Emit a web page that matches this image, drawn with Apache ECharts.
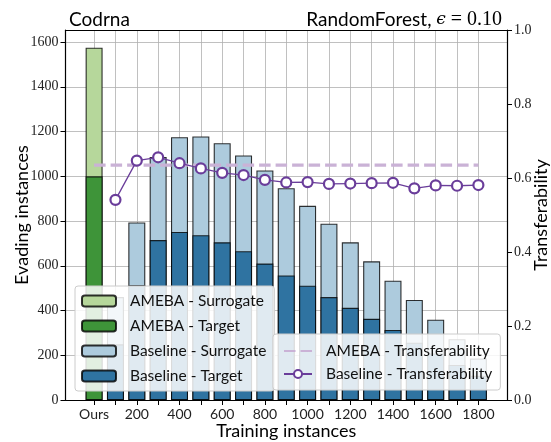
<!DOCTYPE html>
<html><head><meta charset="utf-8">
<script src="https://cdn.jsdelivr.net/npm/echarts@6/dist/echarts.min.js"></script>
<style>html,body{margin:0;padding:0;background:#fff}#c{width:551px;height:442px}</style>
</head><body><div id="c"></div>
<script>
const categories = ['Ours','100','200','300','400','500','600','700','800','900','1000','1100','1200','1300','1400','1500','1600','1700','1800'];
const amebaSurrogate = [1575];
const amebaTarget = [1000];
const baselineSurrogate = [460,794,1086,1175,1178,1148,1093,1026,947,868,788,705,620,533,447,359,272,185];
const baselineTarget = [249,514,715,751,737,705,665,610,557,511,460,412,363,313,256,208,157,108];
const baselineTransfer = [0.541,0.647,0.656,0.640,0.626,0.614,0.608,0.595,0.588,0.589,0.584,0.585,0.586,0.587,0.572,0.580,0.579,0.581];
const amebaTransfer = 0.635;
const leftTicks = [0,200,400,600,800,1000,1200,1400,1600];
const rightTicks = [0,0.2,0.4,0.6,0.8,1.0];

const sans = 'Lato', serif = 'Liberation Serif';
const idx = categories.map((c,i)=>i);
const labelIdx = idx.filter(i=>i%2===0);
const bIdx = i => i+1; // baseline arrays start at category '100'

const chart = echarts.init(document.getElementById('c'), null, {renderer:'canvas'});
const edge = {borderColor:'rgba(0,0,0,0.8)', borderWidth:1.1};
chart.setOption({
  animation:false,
  backgroundColor:'#fff',
  title:[
    {text:'Codrna', left:64, top:5, textStyle:{fontFamily:sans, fontSize:19, fontWeight:'normal', color:'#000'}},
    {text:'RandomForest, {e|ϵ} {m|= 0.10}', right:44, top:5,
     textStyle:{fontFamily:sans, fontSize:19, fontWeight:'normal', color:'#000',
       rich:{e:{fontFamily:'DejaVu Serif', fontStyle:'italic', fontSize:17, color:'#000'}, m:{fontFamily:serif, fontSize:20, color:'#000'}}}}
  ],
  grid:{left:65.5, right:44, top:30, bottom:42, outerBoundsMode:'none', containLabel:false},
  xAxis:[
    {type:'value', min:-1.34, max:19.34, position:'bottom',
     name:'Training instances', nameLocation:'middle', nameGap:22, nameMoveOverlap:false,
     nameTextStyle:{fontFamily:sans, fontSize:18, color:'#000'},
     axisLine:{show:true, onZero:false, lineStyle:{color:'#000', width:1.2}},
     axisTick:{show:true, length:5, customValues:idx, lineStyle:{color:'#000', width:1}},
     axisLabel:{customValues:labelIdx, formatter:v=>categories[v], fontFamily:sans, fontSize:14, color:'#222', margin:7},
     splitLine:{show:true, lineStyle:{color:'#b0b0b0', width:0.8}}},
    {type:'value', min:-1.34, max:19.34, position:'top',
     axisLine:{show:true, onZero:false, lineStyle:{color:'#000', width:1.2}},
     axisTick:{show:false}, axisLabel:{show:false}, splitLine:{show:false}}
  ],
  yAxis:[
    {type:'value', min:0, max:1654, position:'left',
     name:'Evading instances', nameLocation:'middle', nameGap:34, nameRotate:90, nameMoveOverlap:false,
     nameTextStyle:{fontFamily:sans, fontSize:18, color:'#000'},
     axisLine:{show:true, onZero:false, lineStyle:{color:'#000', width:1.2}},
     axisTick:{show:true, length:5, customValues:leftTicks, lineStyle:{color:'#000', width:1}},
     axisLabel:{customValues:leftTicks, formatter:v=>String(v), fontFamily:serif, fontSize:14, color:'#222', margin:7},
     splitLine:{show:true, lineStyle:{color:'#b0b0b0', width:0.8}}},
    {type:'value', min:0, max:1, position:'right',
     name:'Transferability', nameLocation:'middle', nameGap:25, nameRotate:90, nameMoveOverlap:false,
     nameTextStyle:{fontFamily:sans, fontSize:18, color:'#000'},
     axisLine:{show:true, onZero:false, lineStyle:{color:'#000', width:1.2}},
     axisTick:{show:true, length:5, customValues:rightTicks, lineStyle:{color:'#000', width:1}},
     axisLabel:{customValues:rightTicks, formatter:v=>v.toFixed(1), fontFamily:serif, fontSize:14, color:'#222', margin:7},
     splitLine:{show:false}}
  ],
  legend:[
    {orient:'vertical', left:75, top:286, itemWidth:34, itemHeight:11, itemGap:9,
     padding:[7,8,7,6], backgroundColor:'rgba(255,255,255,0.85)', borderColor:'#cccccc', borderWidth:1, borderRadius:3,
     textStyle:{fontFamily:sans, fontSize:15.5, color:'#111', padding:[0,0,0,9]},
     data:['AMEBA - Surrogate','AMEBA - Target','Baseline - Surrogate','Baseline - Target']},
    {orient:'vertical', left:273, top:334, itemWidth:28, itemHeight:10, itemGap:7,
     padding:[9,8,8,10], backgroundColor:'rgba(255,255,255,0.85)', borderColor:'#cccccc', borderWidth:1, borderRadius:3,
     textStyle:{fontFamily:sans, fontSize:15.5, color:'#111', padding:[0,0,0,9]},
     data:[{name:'AMEBA - Transferability', itemStyle:{opacity:0}},'Baseline - Transferability']}
  ],
  series:[
    {name:'AMEBA - Surrogate', type:'bar', barWidth:17, barGap:'-100%', itemStyle:Object.assign({color:'#b6d79b'},edge),
     data:amebaSurrogate.map((v,i)=>[i,v])},
    {name:'AMEBA - Target', type:'bar', barWidth:17, barGap:'-100%', itemStyle:Object.assign({color:'#3e9439'},edge),
     data:amebaTarget.map((v,i)=>[i,v])},
    {name:'Baseline - Surrogate', type:'bar', barWidth:17, barGap:'-100%', itemStyle:Object.assign({color:'#adcbdd'},edge),
     data:baselineSurrogate.map((v,i)=>[bIdx(i),v])},
    {name:'Baseline - Target', type:'bar', barWidth:17, barGap:'-100%', itemStyle:Object.assign({color:'#2f73a1'},edge),
     data:baselineTarget.map((v,i)=>[bIdx(i),v])},
    {name:'AMEBA - Transferability', type:'line', yAxisIndex:1, z:5, symbol:'none',
     lineStyle:{color:'#cab2d6', width:3.2, type:[11.5,5]}, itemStyle:{color:'#cab2d6'},
     data:[[0,amebaTransfer],[categories.length-1,amebaTransfer]]},
    {name:'Baseline - Transferability', type:'line', yAxisIndex:1, z:6, symbol:'circle', symbolSize:10,
     lineStyle:{color:'#6a3d9a', width:1.3}, itemStyle:{color:'#ffffff', borderColor:'#6a3d9a', borderWidth:2.2},
     data:baselineTransfer.map((v,i)=>[bIdx(i),v])}
  ]
});
</script></body></html>
